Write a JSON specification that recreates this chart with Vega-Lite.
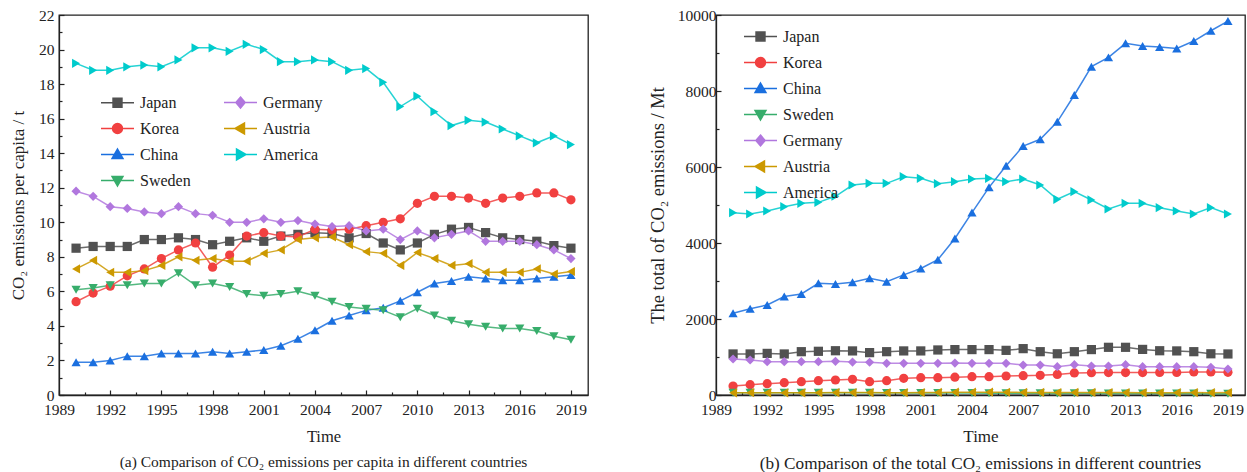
{
  "$schema": "https://vega.github.io/schema/vega-lite/v6.json",
  "padding": {"left": 8, "top": 7, "right": 2, "bottom": 0},
  "background": "white",
  "datasets": {
    "perCapita": [
      {"year":1990,"country":"Japan","value":8.5},{"year":1991,"country":"Japan","value":8.6},{"year":1992,"country":"Japan","value":8.6},{"year":1993,"country":"Japan","value":8.6},{"year":1994,"country":"Japan","value":9.0},{"year":1995,"country":"Japan","value":9.0},{"year":1996,"country":"Japan","value":9.1},{"year":1997,"country":"Japan","value":9.0},{"year":1998,"country":"Japan","value":8.7},{"year":1999,"country":"Japan","value":8.9},{"year":2000,"country":"Japan","value":9.1},{"year":2001,"country":"Japan","value":8.9},{"year":2002,"country":"Japan","value":9.2},{"year":2003,"country":"Japan","value":9.3},{"year":2004,"country":"Japan","value":9.4},{"year":2005,"country":"Japan","value":9.35},{"year":2006,"country":"Japan","value":9.1},{"year":2007,"country":"Japan","value":9.35},{"year":2008,"country":"Japan","value":8.8},{"year":2009,"country":"Japan","value":8.4},{"year":2010,"country":"Japan","value":8.8},{"year":2011,"country":"Japan","value":9.3},{"year":2012,"country":"Japan","value":9.6},{"year":2013,"country":"Japan","value":9.7},{"year":2014,"country":"Japan","value":9.4},{"year":2015,"country":"Japan","value":9.1},{"year":2016,"country":"Japan","value":9.0},{"year":2017,"country":"Japan","value":8.9},{"year":2018,"country":"Japan","value":8.65},{"year":2019,"country":"Japan","value":8.5},
      {"year":1990,"country":"Korea","value":5.4},{"year":1991,"country":"Korea","value":5.9},{"year":1992,"country":"Korea","value":6.3},{"year":1993,"country":"Korea","value":6.9},{"year":1994,"country":"Korea","value":7.3},{"year":1995,"country":"Korea","value":7.9},{"year":1996,"country":"Korea","value":8.4},{"year":1997,"country":"Korea","value":8.8},{"year":1998,"country":"Korea","value":7.4},{"year":1999,"country":"Korea","value":8.1},{"year":2000,"country":"Korea","value":9.2},{"year":2001,"country":"Korea","value":9.4},{"year":2002,"country":"Korea","value":9.2},{"year":2003,"country":"Korea","value":9.15},{"year":2004,"country":"Korea","value":9.6},{"year":2005,"country":"Korea","value":9.55},{"year":2006,"country":"Korea","value":9.6},{"year":2007,"country":"Korea","value":9.8},{"year":2008,"country":"Korea","value":10.0},{"year":2009,"country":"Korea","value":10.2},{"year":2010,"country":"Korea","value":11.1},{"year":2011,"country":"Korea","value":11.5},{"year":2012,"country":"Korea","value":11.5},{"year":2013,"country":"Korea","value":11.4},{"year":2014,"country":"Korea","value":11.1},{"year":2015,"country":"Korea","value":11.4},{"year":2016,"country":"Korea","value":11.5},{"year":2017,"country":"Korea","value":11.7},{"year":2018,"country":"Korea","value":11.7},{"year":2019,"country":"Korea","value":11.3},
      {"year":1990,"country":"China","value":1.9},{"year":1991,"country":"China","value":1.9},{"year":1992,"country":"China","value":2.0},{"year":1993,"country":"China","value":2.25},{"year":1994,"country":"China","value":2.25},{"year":1995,"country":"China","value":2.4},{"year":1996,"country":"China","value":2.4},{"year":1997,"country":"China","value":2.4},{"year":1998,"country":"China","value":2.5},{"year":1999,"country":"China","value":2.4},{"year":2000,"country":"China","value":2.5},{"year":2001,"country":"China","value":2.6},{"year":2002,"country":"China","value":2.85},{"year":2003,"country":"China","value":3.25},{"year":2004,"country":"China","value":3.75},{"year":2005,"country":"China","value":4.3},{"year":2006,"country":"China","value":4.6},{"year":2007,"country":"China","value":4.9},{"year":2008,"country":"China","value":5.05},{"year":2009,"country":"China","value":5.45},{"year":2010,"country":"China","value":5.95},{"year":2011,"country":"China","value":6.45},{"year":2012,"country":"China","value":6.6},{"year":2013,"country":"China","value":6.85},{"year":2014,"country":"China","value":6.75},{"year":2015,"country":"China","value":6.65},{"year":2016,"country":"China","value":6.65},{"year":2017,"country":"China","value":6.75},{"year":2018,"country":"China","value":6.85},{"year":2019,"country":"China","value":6.95},
      {"year":1990,"country":"Sweden","value":6.1},{"year":1991,"country":"Sweden","value":6.2},{"year":1992,"country":"Sweden","value":6.35},{"year":1993,"country":"Sweden","value":6.35},{"year":1994,"country":"Sweden","value":6.45},{"year":1995,"country":"Sweden","value":6.45},{"year":1996,"country":"Sweden","value":7.05},{"year":1997,"country":"Sweden","value":6.35},{"year":1998,"country":"Sweden","value":6.45},{"year":1999,"country":"Sweden","value":6.25},{"year":2000,"country":"Sweden","value":5.85},{"year":2001,"country":"Sweden","value":5.75},{"year":2002,"country":"Sweden","value":5.85},{"year":2003,"country":"Sweden","value":6.0},{"year":2004,"country":"Sweden","value":5.75},{"year":2005,"country":"Sweden","value":5.4},{"year":2006,"country":"Sweden","value":5.1},{"year":2007,"country":"Sweden","value":5.0},{"year":2008,"country":"Sweden","value":4.9},{"year":2009,"country":"Sweden","value":4.5},{"year":2010,"country":"Sweden","value":5.0},{"year":2011,"country":"Sweden","value":4.6},{"year":2012,"country":"Sweden","value":4.3},{"year":2013,"country":"Sweden","value":4.1},{"year":2014,"country":"Sweden","value":3.95},{"year":2015,"country":"Sweden","value":3.85},{"year":2016,"country":"Sweden","value":3.85},{"year":2017,"country":"Sweden","value":3.7},{"year":2018,"country":"Sweden","value":3.4},{"year":2019,"country":"Sweden","value":3.2},
      {"year":1990,"country":"Germany","value":11.8},{"year":1991,"country":"Germany","value":11.5},{"year":1992,"country":"Germany","value":10.9},{"year":1993,"country":"Germany","value":10.8},{"year":1994,"country":"Germany","value":10.6},{"year":1995,"country":"Germany","value":10.5},{"year":1996,"country":"Germany","value":10.9},{"year":1997,"country":"Germany","value":10.5},{"year":1998,"country":"Germany","value":10.4},{"year":1999,"country":"Germany","value":10.0},{"year":2000,"country":"Germany","value":10.0},{"year":2001,"country":"Germany","value":10.2},{"year":2002,"country":"Germany","value":10.0},{"year":2003,"country":"Germany","value":10.1},{"year":2004,"country":"Germany","value":9.9},{"year":2005,"country":"Germany","value":9.75},{"year":2006,"country":"Germany","value":9.8},{"year":2007,"country":"Germany","value":9.5},{"year":2008,"country":"Germany","value":9.6},{"year":2009,"country":"Germany","value":9.0},{"year":2010,"country":"Germany","value":9.5},{"year":2011,"country":"Germany","value":9.1},{"year":2012,"country":"Germany","value":9.3},{"year":2013,"country":"Germany","value":9.5},{"year":2014,"country":"Germany","value":8.9},{"year":2015,"country":"Germany","value":8.9},{"year":2016,"country":"Germany","value":8.9},{"year":2017,"country":"Germany","value":8.7},{"year":2018,"country":"Germany","value":8.4},{"year":2019,"country":"Germany","value":7.9},
      {"year":1990,"country":"Austria","value":7.3},{"year":1991,"country":"Austria","value":7.8},{"year":1992,"country":"Austria","value":7.1},{"year":1993,"country":"Austria","value":7.1},{"year":1994,"country":"Austria","value":7.2},{"year":1995,"country":"Austria","value":7.5},{"year":1996,"country":"Austria","value":8.0},{"year":1997,"country":"Austria","value":7.8},{"year":1998,"country":"Austria","value":7.9},{"year":1999,"country":"Austria","value":7.75},{"year":2000,"country":"Austria","value":7.75},{"year":2001,"country":"Austria","value":8.2},{"year":2002,"country":"Austria","value":8.4},{"year":2003,"country":"Austria","value":9.0},{"year":2004,"country":"Austria","value":9.1},{"year":2005,"country":"Austria","value":9.15},{"year":2006,"country":"Austria","value":8.7},{"year":2007,"country":"Austria","value":8.3},{"year":2008,"country":"Austria","value":8.2},{"year":2009,"country":"Austria","value":7.5},{"year":2010,"country":"Austria","value":8.25},{"year":2011,"country":"Austria","value":7.9},{"year":2012,"country":"Austria","value":7.5},{"year":2013,"country":"Austria","value":7.6},{"year":2014,"country":"Austria","value":7.1},{"year":2015,"country":"Austria","value":7.1},{"year":2016,"country":"Austria","value":7.1},{"year":2017,"country":"Austria","value":7.3},{"year":2018,"country":"Austria","value":7.0},{"year":2019,"country":"Austria","value":7.15},
      {"year":1990,"country":"America","value":19.2},{"year":1991,"country":"America","value":18.8},{"year":1992,"country":"America","value":18.8},{"year":1993,"country":"America","value":19.0},{"year":1994,"country":"America","value":19.1},{"year":1995,"country":"America","value":19.0},{"year":1996,"country":"America","value":19.4},{"year":1997,"country":"America","value":20.1},{"year":1998,"country":"America","value":20.1},{"year":1999,"country":"America","value":19.9},{"year":2000,"country":"America","value":20.3},{"year":2001,"country":"America","value":20.0},{"year":2002,"country":"America","value":19.3},{"year":2003,"country":"America","value":19.3},{"year":2004,"country":"America","value":19.4},{"year":2005,"country":"America","value":19.3},{"year":2006,"country":"America","value":18.8},{"year":2007,"country":"America","value":18.9},{"year":2008,"country":"America","value":18.1},{"year":2009,"country":"America","value":16.7},{"year":2010,"country":"America","value":17.3},{"year":2011,"country":"America","value":16.4},{"year":2012,"country":"America","value":15.6},{"year":2013,"country":"America","value":15.9},{"year":2014,"country":"America","value":15.8},{"year":2015,"country":"America","value":15.4},{"year":2016,"country":"America","value":15.0},{"year":2017,"country":"America","value":14.6},{"year":2018,"country":"America","value":15.0},{"year":2019,"country":"America","value":14.5}
    ],
    "total": [
      {"year":1990,"country":"Japan","value":1080},{"year":1991,"country":"Japan","value":1080},{"year":1992,"country":"Japan","value":1095},{"year":1993,"country":"Japan","value":1080},{"year":1994,"country":"Japan","value":1140},{"year":1995,"country":"Japan","value":1150},{"year":1996,"country":"Japan","value":1165},{"year":1997,"country":"Japan","value":1160},{"year":1998,"country":"Japan","value":1115},{"year":1999,"country":"Japan","value":1140},{"year":2000,"country":"Japan","value":1160},{"year":2001,"country":"Japan","value":1160},{"year":2002,"country":"Japan","value":1185},{"year":2003,"country":"Japan","value":1195},{"year":2004,"country":"Japan","value":1195},{"year":2005,"country":"Japan","value":1195},{"year":2006,"country":"Japan","value":1175},{"year":2007,"country":"Japan","value":1220},{"year":2008,"country":"Japan","value":1140},{"year":2009,"country":"Japan","value":1085},{"year":2010,"country":"Japan","value":1140},{"year":2011,"country":"Japan","value":1195},{"year":2012,"country":"Japan","value":1255},{"year":2013,"country":"Japan","value":1255},{"year":2014,"country":"Japan","value":1200},{"year":2015,"country":"Japan","value":1165},{"year":2016,"country":"Japan","value":1160},{"year":2017,"country":"Japan","value":1140},{"year":2018,"country":"Japan","value":1085},{"year":2019,"country":"Japan","value":1080},
      {"year":1990,"country":"Korea","value":237},{"year":1991,"country":"Korea","value":272},{"year":1992,"country":"Korea","value":298},{"year":1993,"country":"Korea","value":325},{"year":1994,"country":"Korea","value":351},{"year":1995,"country":"Korea","value":377},{"year":1996,"country":"Korea","value":395},{"year":1997,"country":"Korea","value":412},{"year":1998,"country":"Korea","value":351},{"year":1999,"country":"Korea","value":377},{"year":2000,"country":"Korea","value":439},{"year":2001,"country":"Korea","value":456},{"year":2002,"country":"Korea","value":456},{"year":2003,"country":"Korea","value":470},{"year":2004,"country":"Korea","value":482},{"year":2005,"country":"Korea","value":482},{"year":2006,"country":"Korea","value":500},{"year":2007,"country":"Korea","value":509},{"year":2008,"country":"Korea","value":518},{"year":2009,"country":"Korea","value":540},{"year":2010,"country":"Korea","value":580},{"year":2011,"country":"Korea","value":587},{"year":2012,"country":"Korea","value":590},{"year":2013,"country":"Korea","value":590},{"year":2014,"country":"Korea","value":590},{"year":2015,"country":"Korea","value":595},{"year":2016,"country":"Korea","value":595},{"year":2017,"country":"Korea","value":605},{"year":2018,"country":"Korea","value":605},{"year":2019,"country":"Korea","value":596},
      {"year":1990,"country":"China","value":2150},{"year":1991,"country":"China","value":2270},{"year":1992,"country":"China","value":2370},{"year":1993,"country":"China","value":2590},{"year":1994,"country":"China","value":2660},{"year":1995,"country":"China","value":2940},{"year":1996,"country":"China","value":2920},{"year":1997,"country":"China","value":2965},{"year":1998,"country":"China","value":3070},{"year":1999,"country":"China","value":2980},{"year":2000,"country":"China","value":3160},{"year":2001,"country":"China","value":3330},{"year":2002,"country":"China","value":3560},{"year":2003,"country":"China","value":4120},{"year":2004,"country":"China","value":4800},{"year":2005,"country":"China","value":5465},{"year":2006,"country":"China","value":6035},{"year":2007,"country":"China","value":6550},{"year":2008,"country":"China","value":6730},{"year":2009,"country":"China","value":7190},{"year":2010,"country":"China","value":7895},{"year":2011,"country":"China","value":8640},{"year":2012,"country":"China","value":8885},{"year":2013,"country":"China","value":9255},{"year":2014,"country":"China","value":9185},{"year":2015,"country":"China","value":9160},{"year":2016,"country":"China","value":9120},{"year":2017,"country":"China","value":9315},{"year":2018,"country":"China","value":9585},{"year":2019,"country":"China","value":9840},
      {"year":1990,"country":"Sweden","value":57},{"year":1991,"country":"Sweden","value":57},{"year":1992,"country":"Sweden","value":57},{"year":1993,"country":"Sweden","value":57},{"year":1994,"country":"Sweden","value":59},{"year":1995,"country":"Sweden","value":59},{"year":1996,"country":"Sweden","value":62},{"year":1997,"country":"Sweden","value":57},{"year":1998,"country":"Sweden","value":58},{"year":1999,"country":"Sweden","value":56},{"year":2000,"country":"Sweden","value":52},{"year":2001,"country":"Sweden","value":52},{"year":2002,"country":"Sweden","value":53},{"year":2003,"country":"Sweden","value":54},{"year":2004,"country":"Sweden","value":52},{"year":2005,"country":"Sweden","value":49},{"year":2006,"country":"Sweden","value":47},{"year":2007,"country":"Sweden","value":46},{"year":2008,"country":"Sweden","value":45},{"year":2009,"country":"Sweden","value":42},{"year":2010,"country":"Sweden","value":47},{"year":2011,"country":"Sweden","value":44},{"year":2012,"country":"Sweden","value":41},{"year":2013,"country":"Sweden","value":40},{"year":2014,"country":"Sweden","value":38},{"year":2015,"country":"Sweden","value":38},{"year":2016,"country":"Sweden","value":38},{"year":2017,"country":"Sweden","value":37},{"year":2018,"country":"Sweden","value":35},{"year":2019,"country":"Sweden","value":34},
      {"year":1990,"country":"Germany","value":947},{"year":1991,"country":"Germany","value":921},{"year":1992,"country":"Germany","value":877},{"year":1993,"country":"Germany","value":877},{"year":1994,"country":"Germany","value":877},{"year":1995,"country":"Germany","value":877},{"year":1996,"country":"Germany","value":885},{"year":1997,"country":"Germany","value":868},{"year":1998,"country":"Germany","value":862},{"year":1999,"country":"Germany","value":833},{"year":2000,"country":"Germany","value":833},{"year":2001,"country":"Germany","value":833},{"year":2002,"country":"Germany","value":833},{"year":2003,"country":"Germany","value":840},{"year":2004,"country":"Germany","value":833},{"year":2005,"country":"Germany","value":833},{"year":2006,"country":"Germany","value":833},{"year":2007,"country":"Germany","value":789},{"year":2008,"country":"Germany","value":789},{"year":2009,"country":"Germany","value":746},{"year":2010,"country":"Germany","value":798},{"year":2011,"country":"Germany","value":760},{"year":2012,"country":"Germany","value":760},{"year":2013,"country":"Germany","value":798},{"year":2014,"country":"Germany","value":746},{"year":2015,"country":"Germany","value":746},{"year":2016,"country":"Germany","value":746},{"year":2017,"country":"Germany","value":746},{"year":2018,"country":"Germany","value":730},{"year":2019,"country":"Germany","value":684},
      {"year":1990,"country":"Austria","value":57},{"year":1991,"country":"Austria","value":61},{"year":1992,"country":"Austria","value":56},{"year":1993,"country":"Austria","value":57},{"year":1994,"country":"Austria","value":57},{"year":1995,"country":"Austria","value":60},{"year":1996,"country":"Austria","value":64},{"year":1997,"country":"Austria","value":63},{"year":1998,"country":"Austria","value":63},{"year":1999,"country":"Austria","value":62},{"year":2000,"country":"Austria","value":62},{"year":2001,"country":"Austria","value":66},{"year":2002,"country":"Austria","value":67},{"year":2003,"country":"Austria","value":73},{"year":2004,"country":"Austria","value":74},{"year":2005,"country":"Austria","value":75},{"year":2006,"country":"Austria","value":72},{"year":2007,"country":"Austria","value":69},{"year":2008,"country":"Austria","value":68},{"year":2009,"country":"Austria","value":63},{"year":2010,"country":"Austria","value":69},{"year":2011,"country":"Austria","value":67},{"year":2012,"country":"Austria","value":64},{"year":2013,"country":"Austria","value":65},{"year":2014,"country":"Austria","value":61},{"year":2015,"country":"Austria","value":62},{"year":2016,"country":"Austria","value":62},{"year":2017,"country":"Austria","value":64},{"year":2018,"country":"Austria","value":62},{"year":2019,"country":"Austria","value":63},
      {"year":1990,"country":"America","value":4797},{"year":1991,"country":"America","value":4763},{"year":1992,"country":"America","value":4842},{"year":1993,"country":"America","value":4955},{"year":1994,"country":"America","value":5044},{"year":1995,"country":"America","value":5070},{"year":1996,"country":"America","value":5230},{"year":1997,"country":"America","value":5526},{"year":1998,"country":"America","value":5570},{"year":1999,"country":"America","value":5570},{"year":2000,"country":"America","value":5745},{"year":2001,"country":"America","value":5702},{"year":2002,"country":"America","value":5560},{"year":2003,"country":"America","value":5614},{"year":2004,"country":"America","value":5684},{"year":2005,"country":"America","value":5702},{"year":2006,"country":"America","value":5614},{"year":2007,"country":"America","value":5684},{"year":2008,"country":"America","value":5526},{"year":2009,"country":"America","value":5150},{"year":2010,"country":"America","value":5351},{"year":2011,"country":"America","value":5132},{"year":2012,"country":"America","value":4895},{"year":2013,"country":"America","value":5044},{"year":2014,"country":"America","value":5044},{"year":2015,"country":"America","value":4930},{"year":2016,"country":"America","value":4842},{"year":2017,"country":"America","value":4763},{"year":2018,"country":"America","value":4930},{"year":2019,"country":"America","value":4763}
    ]
  },
  "config": {
    "font": "Liberation Serif",
    "view": {"stroke": "#222", "strokeWidth": 1.3},
    "axis": {"labelFont": "Liberation Serif", "titleFont": "Liberation Serif", "labelFontSize": 15.5, "titleFontSize": 16.5, "titleFontWeight": "normal", "labelColor": "#222", "titleColor": "#222", "domainColor": "#222", "tickColor": "#222", "domainWidth": 1.3, "tickWidth": 1.2, "grid": false},
    "legend": {"labelFont": "Liberation Serif", "labelFontSize": 16, "labelColor": "#222", "padding": 0, "symbolSize": 1089, "symbolStrokeWidth": 1.5, "symbolOpacity": 1, "labelOffset": 5, "rowPadding": -6, "columnPadding": 30},
    "title": {"font": "Liberation Serif", "fontSize": 15.5, "fontWeight": "normal", "color": "#222"}
  },
  "spacing": 58,
  "resolve": {"scale": {"color": "independent", "shape": "independent", "fill": "independent", "stroke": "independent"}, "legend": {"color": "independent", "shape": "independent", "fill": "independent", "stroke": "independent"}},
  "hconcat": [
    {
      "width": 529, "height": 380,
      "title": {"text": "(a) Comparison of CO₂ emissions per capita in different countries", "orient": "bottom", "anchor": "middle", "offset": 10, "fontSize": 15.5},
      "data": {"name": "perCapita"},
      "resolve": {"axis": {"x": "independent", "y": "independent"}, "scale": {"shape": "independent", "fill": "independent", "stroke": "independent"}},
      "layer": [
        {
          "mark": {"type": "line", "strokeWidth": 1.5, "opacity": 0.85},
          "encoding": {
            "x": {"field": "year", "type": "quantitative", "scale": {"domain": [1989, 2020], "nice": false, "zero": false},
                  "axis": {"orient": "bottom", "values": [1989,1992,1995,1998,2001,2004,2007,2010,2013,2016,2019], "format": "d", "title": "Time", "tickSize": -5, "labelPadding": 12, "titlePadding": 11, "labelFlush": false}},
            "y": {"field": "value", "type": "quantitative", "scale": {"domain": [0, 22], "nice": false},
                  "axis": {"orient": "left", "values": [0,2,4,6,8,10,12,14,16,18,20,22], "title": "CO₂ emissions per capita / t", "titleFontSize": 17, "tickSize": -5, "labelPadding": 10, "titlePadding": 11, "labelFlush": false}},
            "color": {"field": "country", "type": "nominal",
                      "scale": {"domain": ["Japan","Korea","China","Sweden","Germany","Austria","America"], "range": ["#515151","#F14040","#1A6FDF","#37AD6B","#B177DE","#CC9900","#00CBCC"]},
                      "legend": null}
          }
        },
        {
          "mark": {"type": "point", "filled": true, "size": 85, "opacity": 1},
          "encoding": {
            "x": {"field": "year", "type": "quantitative",
                  "axis": {"orient": "bottom", "values": [1990.5,1993.5,1996.5,1999.5,2002.5,2005.5,2008.5,2011.5,2014.5,2017.5], "labels": false, "title": null, "domain": false, "tickSize": -3}},
            "y": {"field": "value", "type": "quantitative",
                  "axis": {"orient": "left", "values": [1,3,5,7,9,11,13,15,17,19,21], "labels": false, "title": null, "domain": false, "tickSize": -3}},
            "color": {"field": "country", "type": "nominal", "legend": null},
            "shape": {"field": "country", "type": "nominal",
                      "scale": {"domain": ["Japan","Korea","China","Sweden","Germany","Austria","America"], "range": ["square","circle","triangle-up","triangle-down","diamond","triangle-left","triangle-right"]},
                      "legend": null}
          }
        },
        {
          "mark": {"type": "point", "filled": true, "size": 85, "opacity": 0, "strokeWidth": 1.5},
          "encoding": {
            "x": {"field": "year", "type": "quantitative", "axis": null},
            "y": {"field": "value", "type": "quantitative", "axis": null},
            "fill": {"field": "country", "type": "nominal",
                     "scale": {"domain": ["Japan","Korea","China","Sweden","Germany","Austria","America"], "range": ["#515151","#F14040","#1A6FDF","#37AD6B","#B177DE","#CC9900","#00CBCC"]},
                     "legend": {"title": null, "orient": "none", "columns": 2, "legendX": 41, "legendY": 70}},
            "stroke": {"field": "country", "type": "nominal",
                     "scale": {"domain": ["Japan","Korea","China","Sweden","Germany","Austria","America"], "range": ["#515151","#F14040","#1A6FDF","#37AD6B","#B177DE","#CC9900","#00CBCC"]},
                     "legend": {"title": null, "orient": "none", "columns": 2, "legendX": 41, "legendY": 70}},
            "shape": {"field": "country", "type": "nominal",
                     "scale": {"domain": ["Japan","Korea","China","Sweden","Germany","Austria","America"], "range": ["M-1,0H1M-0.27,-0.27H0.27V0.27H-0.27Z","M-1,0H1M-0.3,0A0.3,0.3,0,1,0,0.3,0A0.3,0.3,0,1,0,-0.3,0Z","M-1,0H1M0,-0.33L0.33,0.24L-0.33,0.24Z","M-1,0H1M0,0.33L0.33,-0.24L-0.33,-0.24Z","M-1,0H1M0,-0.33L0.28,0L0,0.33L-0.28,0Z","M-1,0H1M-0.33,0L0.24,-0.33L0.24,0.33Z","M-1,0H1M0.33,0L-0.24,-0.33L-0.24,0.33Z"]},
                     "legend": {"title": null, "orient": "none", "columns": 2, "legendX": 41, "legendY": 70}}
          }
        }
      ]
    },
    {
      "width": 529, "height": 380,
      "title": {"text": "(b) Comparison of the total CO₂ emissions in different countries", "orient": "bottom", "anchor": "middle", "offset": 10, "fontSize": 17.2},
      "data": {"name": "total"},
      "resolve": {"axis": {"x": "independent", "y": "independent"}, "scale": {"shape": "independent", "fill": "independent", "stroke": "independent"}},
      "layer": [
        {
          "mark": {"type": "line", "strokeWidth": 1.5, "opacity": 0.85},
          "encoding": {
            "x": {"field": "year", "type": "quantitative", "scale": {"domain": [1989, 2020], "nice": false, "zero": false},
                  "axis": {"orient": "bottom", "values": [1989,1992,1995,1998,2001,2004,2007,2010,2013,2016,2019], "format": "d", "title": "Time", "titleFontSize": 17, "tickSize": -5, "labelPadding": 12, "titlePadding": 11, "labelFlush": false}},
            "y": {"field": "value", "type": "quantitative", "scale": {"domain": [0, 10000], "nice": false},
                  "axis": {"orient": "left", "values": [0,2000,4000,6000,8000,10000], "format": "d", "title": "The total of CO₂ emissions / Mt", "titleFontSize": 18.5, "tickSize": -5, "labelPadding": 5, "titlePadding": 10, "labelFlush": false}},
            "color": {"field": "country", "type": "nominal",
                      "scale": {"domain": ["Japan","Korea","China","Sweden","Germany","Austria","America"], "range": ["#515151","#F14040","#1A6FDF","#37AD6B","#B177DE","#CC9900","#00CBCC"]},
                      "legend": null}
          }
        },
        {
          "mark": {"type": "point", "filled": true, "size": 85, "opacity": 1},
          "encoding": {
            "x": {"field": "year", "type": "quantitative",
                  "axis": {"orient": "bottom", "values": [1990.5,1993.5,1996.5,1999.5,2002.5,2005.5,2008.5,2011.5,2014.5,2017.5], "labels": false, "title": null, "domain": false, "tickSize": -3}},
            "y": {"field": "value", "type": "quantitative",
                  "axis": {"orient": "left", "values": [1000,3000,5000,7000,9000], "labels": false, "title": null, "domain": false, "tickSize": -3}},
            "color": {"field": "country", "type": "nominal", "legend": null},
            "shape": {"field": "country", "type": "nominal",
                      "scale": {"domain": ["Japan","Korea","China","Sweden","Germany","Austria","America"], "range": ["square","circle","triangle-up","triangle-down","diamond","triangle-left","triangle-right"]},
                      "legend": null}
          }
        },
        {
          "mark": {"type": "point", "filled": true, "size": 85, "opacity": 0, "strokeWidth": 1.5},
          "encoding": {
            "x": {"field": "year", "type": "quantitative", "axis": null},
            "y": {"field": "value", "type": "quantitative", "axis": null},
            "fill": {"field": "country", "type": "nominal",
                     "scale": {"domain": ["Japan","Korea","China","Sweden","Germany","Austria","America"], "range": ["#515151","#F14040","#1A6FDF","#37AD6B","#B177DE","#CC9900","#00CBCC"]},
                     "legend": {"title": null, "orient": "none", "columns": 1, "legendX": 27, "legendY": 4}},
            "stroke": {"field": "country", "type": "nominal",
                     "scale": {"domain": ["Japan","Korea","China","Sweden","Germany","Austria","America"], "range": ["#515151","#F14040","#1A6FDF","#37AD6B","#B177DE","#CC9900","#00CBCC"]},
                     "legend": {"title": null, "orient": "none", "columns": 1, "legendX": 27, "legendY": 4}},
            "shape": {"field": "country", "type": "nominal",
                     "scale": {"domain": ["Japan","Korea","China","Sweden","Germany","Austria","America"], "range": ["M-1,0H1M-0.27,-0.27H0.27V0.27H-0.27Z","M-1,0H1M-0.3,0A0.3,0.3,0,1,0,0.3,0A0.3,0.3,0,1,0,-0.3,0Z","M-1,0H1M0,-0.33L0.33,0.24L-0.33,0.24Z","M-1,0H1M0,0.33L0.33,-0.24L-0.33,-0.24Z","M-1,0H1M0,-0.33L0.28,0L0,0.33L-0.28,0Z","M-1,0H1M-0.33,0L0.24,-0.33L0.24,0.33Z","M-1,0H1M0.33,0L-0.24,-0.33L-0.24,0.33Z"]},
                     "legend": {"title": null, "orient": "none", "columns": 1, "legendX": 27, "legendY": 4}}
          }
        }
      ]
    }
  ]
}
